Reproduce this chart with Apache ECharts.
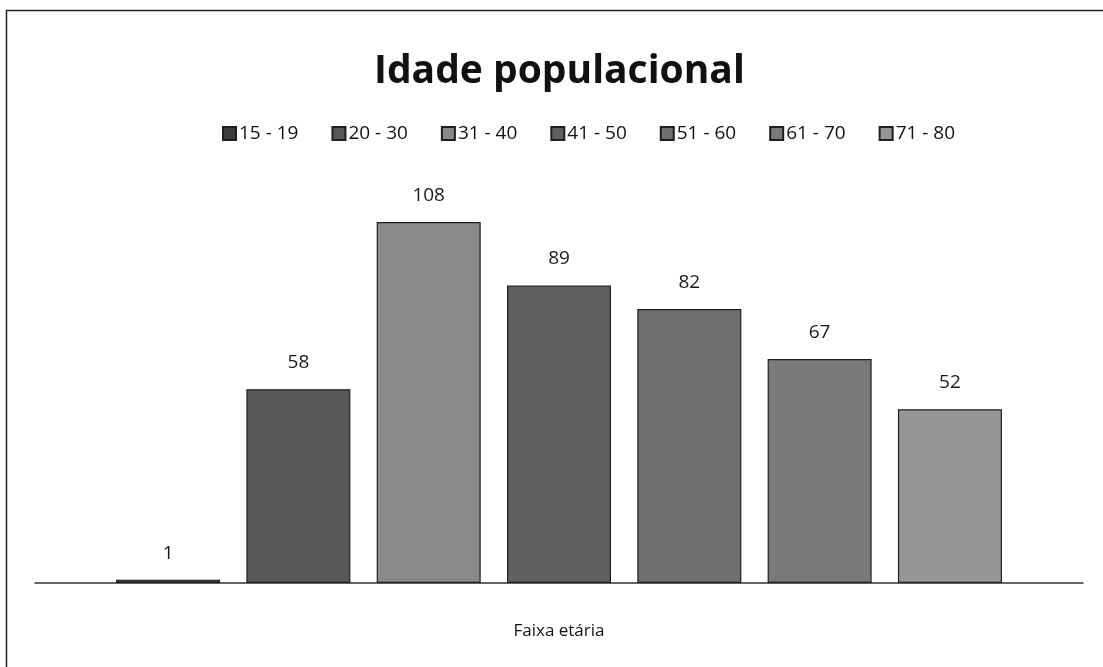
<!DOCTYPE html>
<html>
<head>
<meta charset="utf-8">
<script src="https://cdn.jsdelivr.net/npm/echarts@6/dist/echarts.min.js"></script>
<style>
  html, body { margin: 0; padding: 0; background: #fff; }
  #chart { width: 1103px; height: 667px; }
</style>
</head>
<body>
<div id="chart"></div>
<script>
  // faixas etárias (uma série por faixa, uma só categoria)
  const faixas = ['15 - 19', '20 - 30', '31 - 40', '41 - 50', '51 - 60', '61 - 70', '71 - 80'];
  const valores = [1, 58, 108, 89, 82, 67, 52];
  const categorias = ['Faixa etária'];
  const cores = ['#3c3c3c', '#575757', '#8a8a8a', '#606060', '#707070', '#7a7a7a', '#969696'];

  const fonte = '"Open Sans", "Noto Sans", sans-serif';

  const series = faixas.map((nome, i) => ({
    name: nome,
    type: 'bar',
    data: [valores[i]],
    barWidth: 104,
    barGap: '25.3%',
    itemStyle: { color: cores[i], borderColor: '#1e1e1e', borderWidth: 1.2 },
    label: {
      show: true,
      position: 'top',
      distance: 17,
      color: '#1a1a1a',
      fontSize: 19,
      fontFamily: fonte
    }
  }));

  const chart = echarts.init(document.getElementById('chart'));
  chart.setOption({
    animation: false,
    color: cores,
    title: {
      text: 'Idade populacional',
      left: 369,
      top: 47,
      textStyle: { fontSize: 39, fontWeight: 'bold', color: '#111', fontFamily: fonte }
    },
    legend: {
      top: 119,
      left: 217,
      itemWidth: 13,
      itemHeight: 13,
      itemGap: 33,
      icon: 'rect',
      textStyle: { fontSize: 19, color: '#111', fontFamily: fonte, padding: [0, 0, 0, -2] },
      data: faixas
    },
    grid: { left: 35, right: 20, top: 182, bottom: 84 },
    xAxis: {
      type: 'category',
      data: categorias,
      axisLine: { lineStyle: { color: '#333', width: 1.5 } },
      axisTick: { show: false },
      axisLabel: { margin: 40, fontSize: 17, color: '#111', fontFamily: fonte }
    },
    yAxis: {
      type: 'value',
      min: 0,
      max: 120,
      show: false
    },
    graphic: [{
      type: 'rect',
      shape: { x: 6.5, y: 10.5, width: 1200, height: 800 },
      style: { fill: 'none', stroke: '#222', lineWidth: 1.5 },
      silent: true,
      z: -1
    }],
    series: series
  });
</script>
</body>
</html>
